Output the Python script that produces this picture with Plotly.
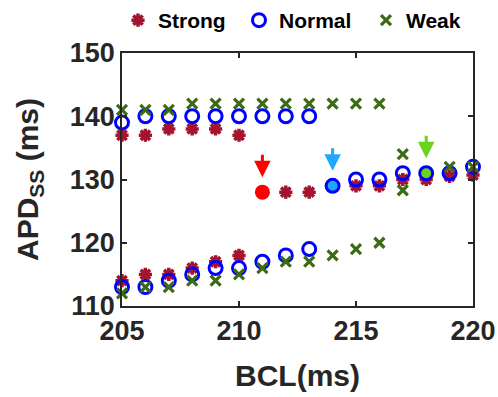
import plotly.graph_objects as go

# Strong
strong_x = [205, 206, 207, 208, 209, 210,
            205, 206, 207, 208, 209, 210,
            212, 213, 215, 216, 217, 218, 219, 220]
strong_y = [137, 137, 138, 138, 138, 137,
            114, 115, 115, 116, 117, 118,
            128, 128, 129, 129, 130, 130, 130.5, 130.7]
# Normal
normal_x = [205, 206, 207, 208, 209, 210, 211, 212, 213,
            205, 206, 207, 208, 209, 210, 211, 212, 213,
            215, 216, 217, 219, 220]
normal_y = [139, 140, 140, 140, 140, 140, 140, 140, 140,
            113, 113, 114, 115, 116, 116, 117, 118, 119,
            130, 130, 131, 131, 132]
# Weak
weak_x = [205, 206, 207, 208, 209, 210, 211, 212, 213, 214, 215, 216,
          205, 206, 207, 208, 209, 210, 211, 212, 213, 214, 215, 216,
          217, 217, 219, 220]
weak_y = [141, 141, 141, 142, 142, 142, 142, 142, 142, 142, 142, 142,
          112, 113, 113, 114, 114, 115, 116, 117, 117, 118, 119, 120,
          134, 128.3, 132, 132]

# Highlighted points
hl_strong = (211, 128)
hl_normal = (214, 129)
hl_weak = (218, 131)

x_ticks = [205, 210, 215, 220]
y_ticks = [110, 120, 130, 140, 150]

C_STRONG = "#A2142F"
C_NORMAL = "#0000FF"
C_WEAK = "#3D6B14"
FONT = "Liberation Sans"

fig = go.Figure()
fig.add_trace(go.Scatter(x=strong_x, y=strong_y, mode="markers", name="<b>Strong</b>",
                         cliponaxis=False, legendwidth=76,
                         marker=dict(symbol="asterisk", size=11, color=C_STRONG,
                                     line=dict(color=C_STRONG, width=3.5))))
fig.add_trace(go.Scatter(x=normal_x, y=normal_y, mode="markers", name="<b>Normal</b>",
                         cliponaxis=False, legendwidth=82,
                         marker=dict(symbol="circle-open", size=13, color=C_NORMAL,
                                     line=dict(color=C_NORMAL, width=3))))
fig.add_trace(go.Scatter(x=weak_x, y=weak_y, mode="markers", name="<b>Weak</b>",
                         cliponaxis=False,
                         marker=dict(symbol="x-thin", size=10, color=C_WEAK,
                                     line=dict(color=C_WEAK, width=3.2))))
fig.add_trace(go.Scatter(x=[hl_strong[0]], y=[hl_strong[1]], mode="markers", showlegend=False,
                         cliponaxis=False,
                         marker=dict(symbol="circle", size=15, color="#FF0000",
                                     line=dict(color="#FF0000", width=0))))
fig.add_trace(go.Scatter(x=[hl_normal[0]], y=[hl_normal[1]], mode="markers", showlegend=False,
                         cliponaxis=False,
                         marker=dict(symbol="circle", size=13, color="#1EA7FF",
                                     line=dict(color=C_NORMAL, width=3))))
fig.add_trace(go.Scatter(x=[hl_weak[0]], y=[hl_weak[1]], mode="markers", showlegend=False,
                         cliponaxis=False,
                         marker=dict(symbol="circle", size=13, color="#6BD21E",
                                     line=dict(color=C_NORMAL, width=3))))

for (px, py), col in [(hl_strong, "#FF0000"), (hl_normal, "#1EA7FF"), (hl_weak, "#6BD21E")]:
    fig.add_annotation(x=px, y=py, xref="x", yref="y", text="", showarrow=True,
                       arrowhead=2, arrowsize=1.1, arrowwidth=3, arrowcolor=col,
                       ax=0, ay=-39, standoff=15)

axis_common = dict(showline=True, linecolor="#262626", linewidth=1.8, mirror="ticks",
                   ticks="inside", ticklen=5, tickwidth=1.5, tickcolor="#262626",
                   showgrid=False, zeroline=False, automargin=False,
                   tickfont=dict(family=FONT, size=27, color="#262626"))

fig.update_xaxes(range=[205, 220], tickvals=x_ticks, ticktext=[f"<b>{t}</b>" for t in x_ticks],
                 title=dict(text="<b>BCL(ms)</b>", font=dict(family=FONT, size=30, color="#262626"),
                            standoff=20),
                 **axis_common)
fig.update_yaxes(range=[110, 150], tickvals=y_ticks, ticktext=[f"<b>{t}</b>" for t in y_ticks],
                 title=dict(text="<b>APD<sub>SS</sub> (ms)</b>", font=dict(family=FONT, size=30, color="#262626"),
                            standoff=22),
                 **axis_common)

fig.update_layout(width=498, height=397,
                  margin=dict(l=122, r=25, t=53, b=91, autoexpand=False),
                  plot_bgcolor="white", paper_bgcolor="white",
                  legend=dict(orientation="h", xref="container", yref="container",
                              x=118 / 498, xanchor="left", y=1.0, yanchor="top",
                              font=dict(family=FONT, size=21, color="#000000"),
                              itemwidth=30, bgcolor="rgba(0,0,0,0)"),
                  showlegend=True)
fig.write_html("out.html")
